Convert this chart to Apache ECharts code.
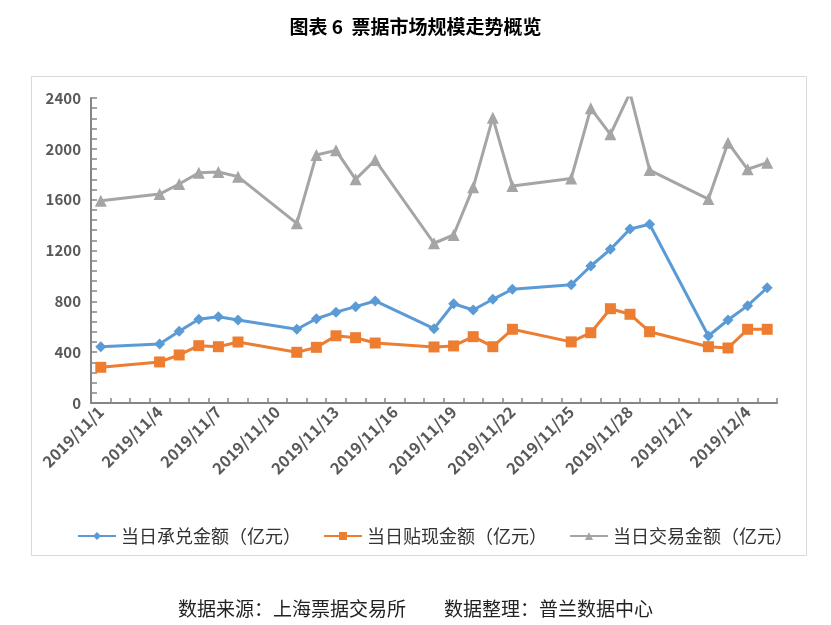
<!DOCTYPE html>
<html><head><meta charset="utf-8">
<script src="https://cdn.jsdelivr.net/npm/echarts@6/dist/echarts.min.js"></script>
<style>html,body{margin:0;padding:0;background:#fff}#c{width:831px;height:625px}</style>
</head><body><div id="c"></div>
<script>
// All calendar days on the date axis
const days = [];
for (let d = 1; d <= 30; d++) days.push('2019/11/' + d);
for (let d = 1; d <= 5; d++) days.push('2019/12/' + d);

// Trading dates with data
const dates = ['2019/11/1','2019/11/4','2019/11/5','2019/11/6','2019/11/7','2019/11/8',
  '2019/11/11','2019/11/12','2019/11/13','2019/11/14','2019/11/15',
  '2019/11/18','2019/11/19','2019/11/20','2019/11/21','2019/11/22',
  '2019/11/25','2019/11/26','2019/11/27','2019/11/28','2019/11/29',
  '2019/12/2','2019/12/3','2019/12/4','2019/12/5'];
const acceptance = [443,464,564,659,679,653, 580,663,715,758,803, 585,781,732,816,895, 930,1078,1209,1369,1406, 527,653,766,907];
const discount   = [281,323,378,451,443,480, 399,438,529,514,472, 441,449,522,443,580, 481,553,742,698,561, 443,433,580,580];
const trading    = [1592,1644,1723,1812,1818,1781, 1414,1952,1988,1760,1912, 1257,1322,1697,2245,1707, 1767,2319,2114,2440,1833, 1605,2048,1839,1891];
const seriesNames = ['当日承兑金额（亿元）','当日贴现金额（亿元）','当日交易金额（亿元）'];
const yTicks = [0,400,800,1200,1600,2000,2400];

function toAxis(vals){
  const m = {}; dates.forEach((d,i)=>m[d]=vals[i]);
  return days.map(d => (d in m) ? m[d] : null);
}

const chart = echarts.init(document.getElementById('c'), null, {renderer:'canvas'});
const font = '"Noto Sans CJK SC", "Noto Sans", sans-serif';
chart.setOption({
  animation:false,
  backgroundColor:'#fff',
  title:[
    {text:'图表 6  票据市场规模走势概览', left:'center', top:12,
     textStyle:{fontFamily:font, fontSize:19, fontWeight:'bold', color:'#000'}},
    {text:'数据来源：上海票据交易所　　数据整理：普兰数据中心', left:'center', top:594,
     textStyle:{fontFamily:font, fontSize:19, fontWeight:'normal', color:'#222'}}
  ],
  graphic:[{type:'rect', shape:{x:31.5,y:76.5,width:775,height:479},
    style:{fill:'none', stroke:'#d9d9d9', lineWidth:1}, silent:true, z:-1}],
  legend:{
    top:522, left:72, itemGap:22, itemWidth:38, itemHeight:10,
    textStyle:{fontFamily:font, fontSize:18, color:'#333'},
    data:seriesNames
  },
  grid:{left:91, right:54, top:98, bottom:222},
  xAxis:{
    type:'category', data:days, boundaryGap:true,
    axisLine:{lineStyle:{color:'#868686', width:2}},
    axisTick:{show:true, inside:true, interval:0, length:5, lineStyle:{color:'#868686', width:1.5}},
    axisLabel:{interval:2, rotate:45, margin:6, padding:[10,0,0,0], fontFamily:font, fontSize:16, fontWeight:'bold', color:'#595959'},
    splitLine:{show:false}
  },
  yAxis:{
    type:'value', min:0, max:2400, interval:400,
    axisLine:{show:true, lineStyle:{color:'#868686', width:2}},
    axisTick:{show:true, inside:true, length:6, lineStyle:{color:'#868686', width:1.5}},
    minorTick:{show:true, splitNumber:5, length:6, lineStyle:{color:'#868686', width:1.5}},
    axisLabel:{margin:10, fontFamily:font, fontSize:15, fontWeight:'bold', color:'#595959',
      formatter:v => yTicks.includes(v) ? String(v) : ''},
    splitLine:{show:false}
  },
  series:[
    {name:seriesNames[0], type:'line', data:toAxis(acceptance), connectNulls:true,
     symbol:'diamond', symbolSize:11, color:'#5B9BD5',
     lineStyle:{width:3, color:'#5B9BD5'}, itemStyle:{color:'#5B9BD5'}},
    {name:seriesNames[1], type:'line', data:toAxis(discount), connectNulls:true,
     symbol:'rect', symbolSize:11, color:'#ED7D31',
     lineStyle:{width:3, color:'#ED7D31'}, itemStyle:{color:'#ED7D31'}},
    {name:seriesNames[2], type:'line', data:toAxis(trading), connectNulls:true,
     symbol:'triangle', symbolSize:12, color:'#A5A5A5', clip:true,
     lineStyle:{width:3, color:'#A5A5A5'}, itemStyle:{color:'#A5A5A5'}}
  ]
});
</script></body></html>
